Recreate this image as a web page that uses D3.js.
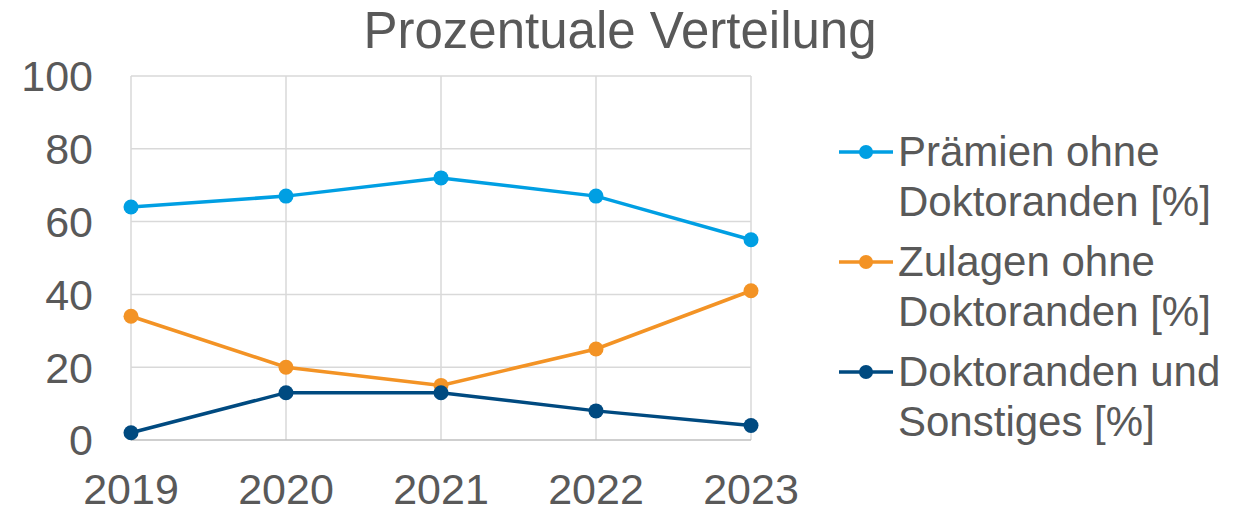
<html>
<head>
<meta charset="utf-8">
<script src="https://cdn.jsdelivr.net/npm/d3@7"></script>
<style>
  body { margin: 0; background: #fff; }
  text { font-family: "Liberation Sans", Arial, sans-serif; fill: #595959; }
</style>
</head>
<body>
<div id="chart"></div>
<script>
// data
var years = ["2019", "2020", "2021", "2022", "2023"];
var praemien = [64, 67, 72, 67, 55];
var zulagen = [34, 20, 15, 25, 41];
var doktoranden = [2, 13, 13, 8, 4];
var yTicks = [0, 20, 40, 60, 80, 100];
var seriesNames = [["Prämien ohne", "Doktoranden [%]"], ["Zulagen ohne", "Doktoranden [%]"], ["Doktoranden und", "Sonstiges [%]"]];
var seriesColors = ["#009fe3", "#f39325", "#004a80"];

var w = 1244, h = 508;
var pLeft = 131, pRight = 751, pTop = 76, pBottom = 440;

var svg = d3.select("#chart").append("svg")
    .attr("width", w)
    .attr("height", h);

var x = d3.scalePoint().domain(years).range([pLeft, pRight]);
var y = d3.scaleLinear().domain([0, 100]).range([pBottom, pTop]);

// grid
svg.append("g").selectAll("line")
    .data(yTicks.filter(function(d) { return d > 0; }))
  .enter().append("line")
    .attr("x1", pLeft).attr("x2", pRight)
    .attr("y1", function(d) { return y(d); }).attr("y2", function(d) { return y(d); })
    .style("stroke", "#d9d9d9").style("stroke-width", 1.5);

svg.append("g").selectAll("line")
    .data(years)
  .enter().append("line")
    .attr("x1", function(d) { return x(d); }).attr("x2", function(d) { return x(d); })
    .attr("y1", pTop).attr("y2", pBottom)
    .style("stroke", "#d9d9d9").style("stroke-width", 1.5);

// x axis line
svg.append("line")
    .attr("x1", pLeft).attr("x2", pRight)
    .attr("y1", pBottom).attr("y2", pBottom)
    .style("stroke", "#bfbfbf").style("stroke-width", 1.5);

// y labels
svg.append("g").selectAll("text")
    .data(yTicks)
  .enter().append("text")
    .attr("x", 93)
    .attr("y", function(d) { return y(d); })
    .attr("dy", "0.36em")
    .attr("text-anchor", "end")
    .style("font-size", "43px")
    .text(function(d) { return d; });

// x labels
svg.append("g").selectAll("text")
    .data(years)
  .enter().append("text")
    .attr("x", function(d) { return x(d); })
    .attr("y", 504)
    .attr("text-anchor", "middle")
    .style("font-size", "43px")
    .text(function(d) { return d; });

// title
svg.append("text")
    .attr("x", 620)
    .attr("y", 48)
    .attr("text-anchor", "middle")
    .style("font-size", "51px")
    .text("Prozentuale Verteilung");

var line = d3.line()
    .x(function(d, i) { return x(years[i]); })
    .y(function(d) { return y(d); });

var allSeries = [praemien, zulagen, doktoranden];
allSeries.forEach(function(vals, k) {
  svg.append("path")
      .datum(vals)
      .attr("d", line)
      .style("fill", "none")
      .style("stroke", seriesColors[k])
      .style("stroke-width", 3.5);
  svg.append("g").selectAll("circle")
      .data(vals)
    .enter().append("circle")
      .attr("cx", function(d, i) { return x(years[i]); })
      .attr("cy", function(d) { return y(d); })
      .attr("r", 7.5)
      .style("fill", seriesColors[k]);
});

// legend
var legY = [152, 262, 372];
seriesNames.forEach(function(names, k) {
  var g = svg.append("g");
  g.append("line")
      .attr("x1", 839).attr("x2", 893)
      .attr("y1", legY[k]).attr("y2", legY[k])
      .style("stroke", seriesColors[k]).style("stroke-width", 3.5);
  g.append("circle")
      .attr("cx", 866).attr("cy", legY[k]).attr("r", 7)
      .style("fill", seriesColors[k]);
  names.forEach(function(t, j) {
    g.append("text")
        .attr("x", 898)
        .attr("y", legY[k] + 14 + j * 50)
        .style("font-size", "42px")
        .text(t);
  });
});
</script>
</body>
</html>
